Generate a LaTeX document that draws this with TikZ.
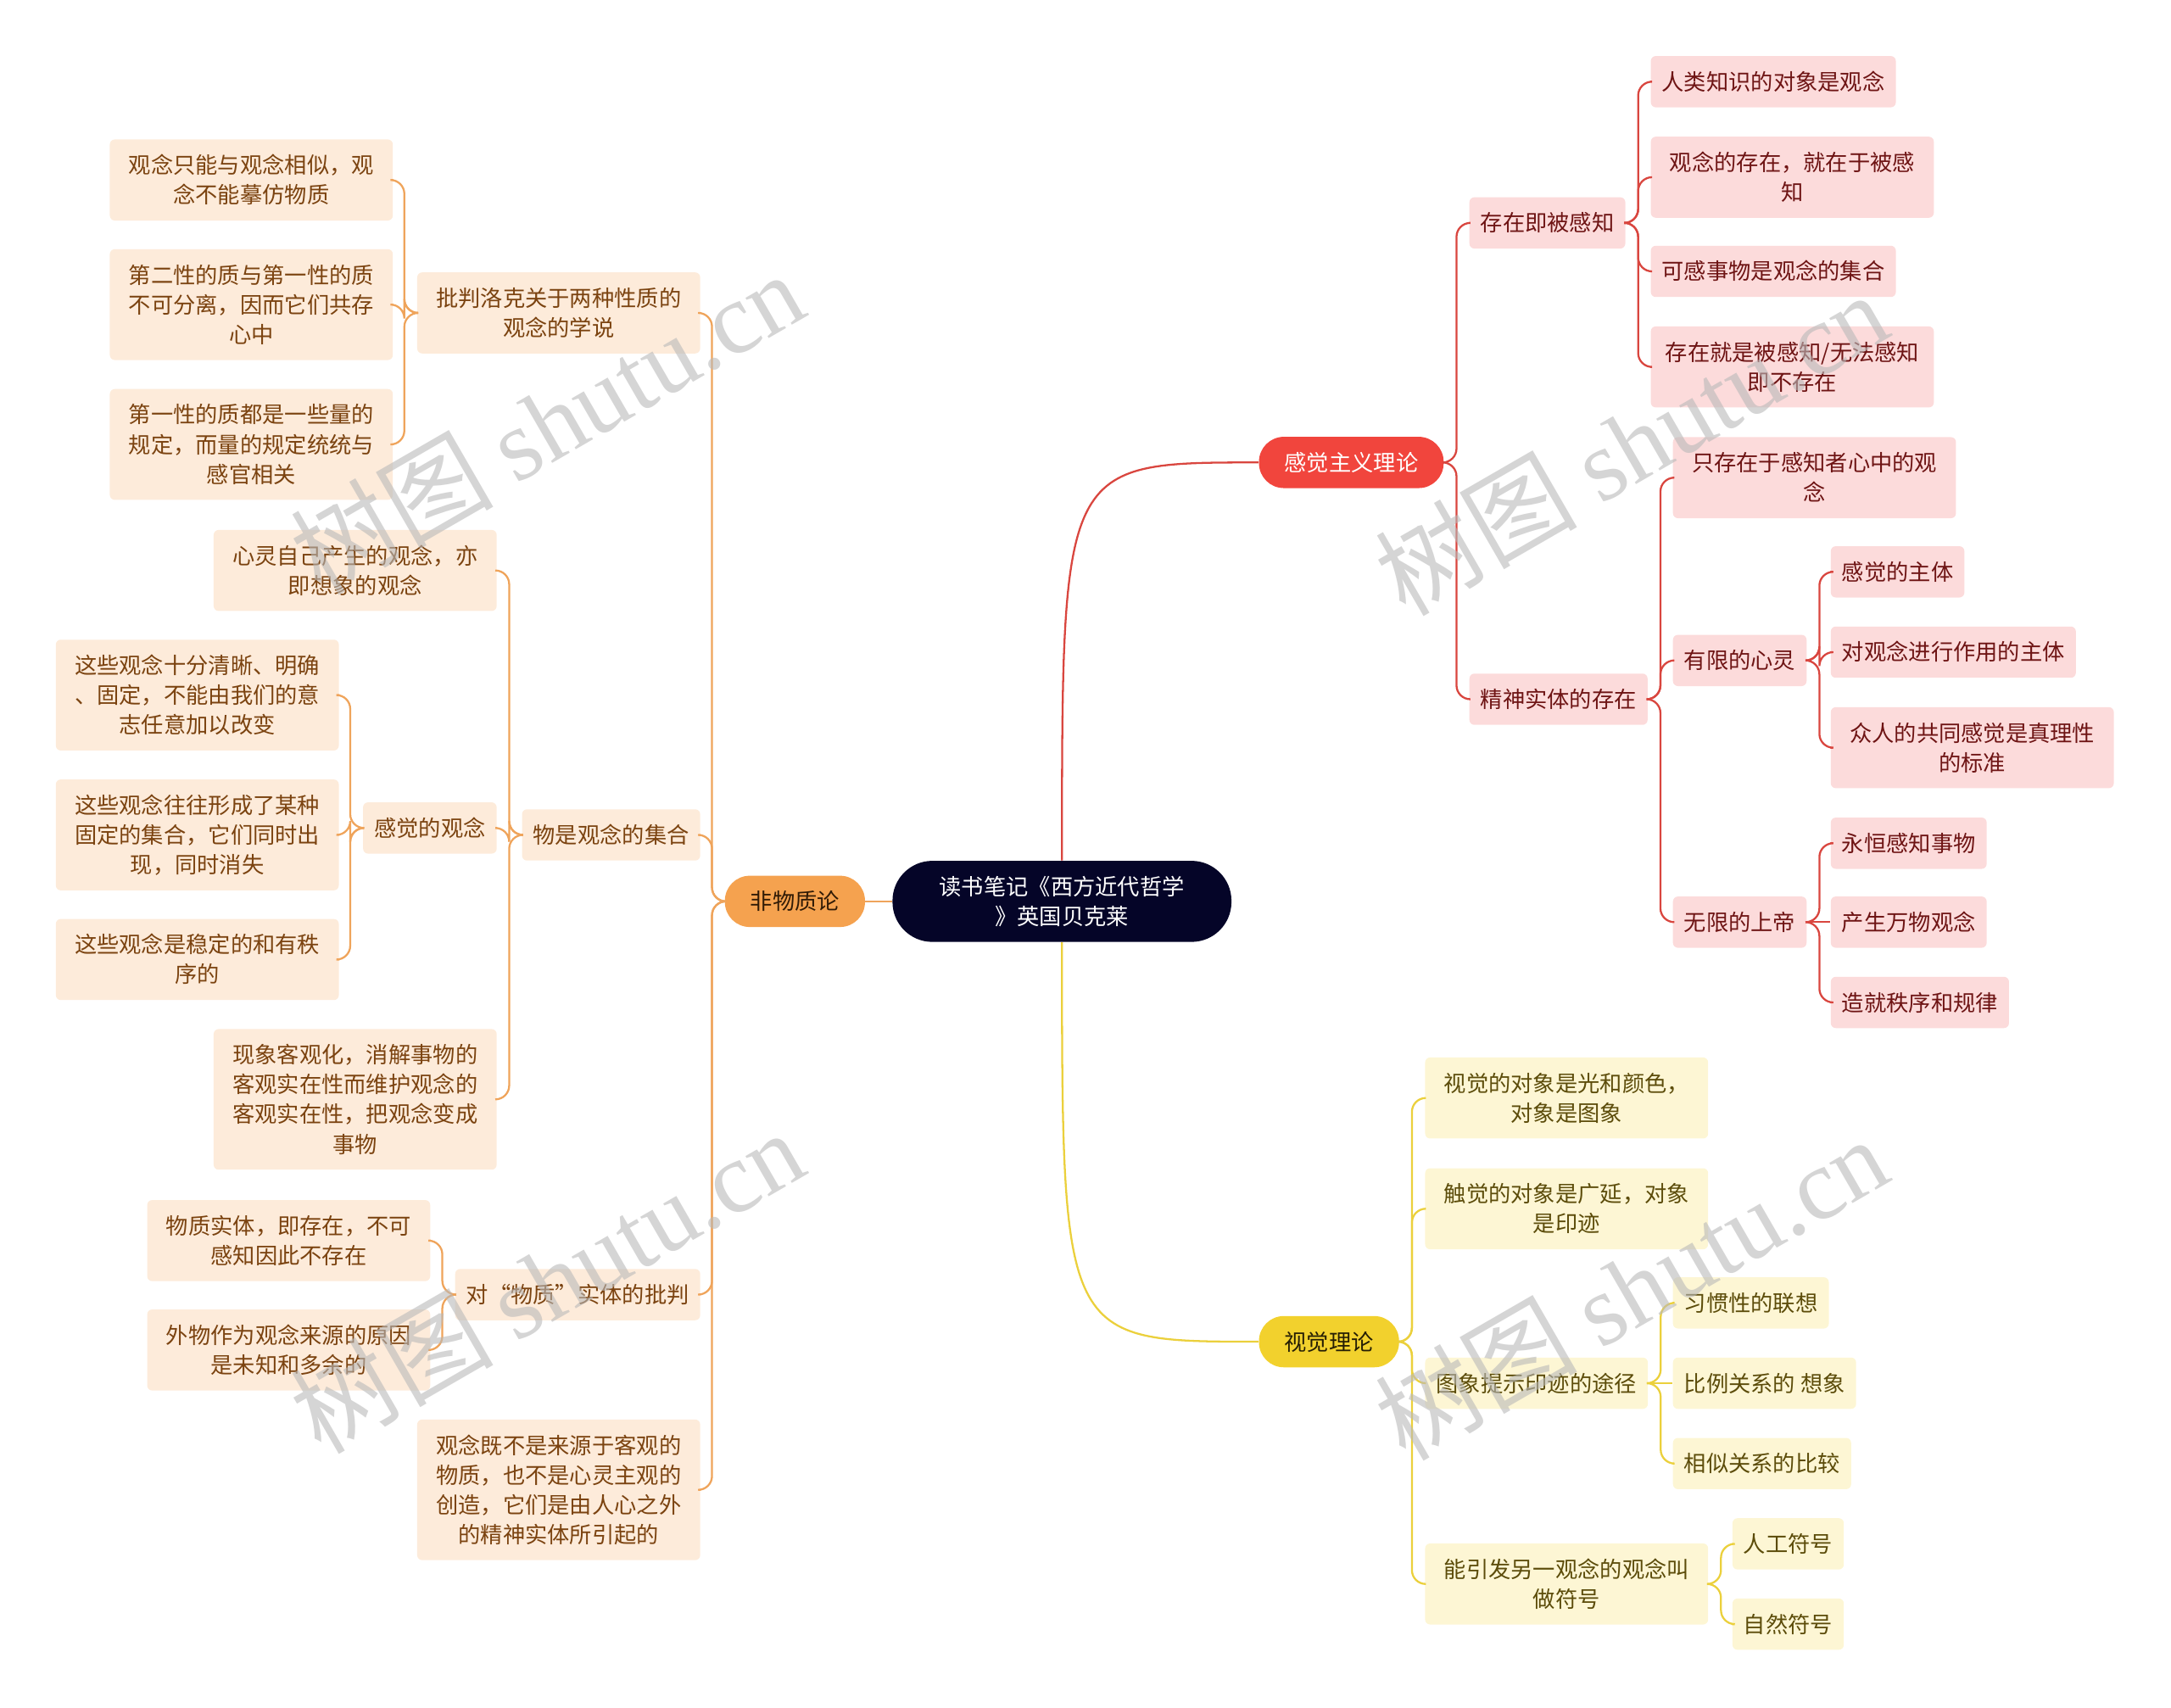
\documentclass[tikz,border=0pt]{standalone}
\usepackage{fontspec}
\setmainfont{Noto Sans CJK SC}
\newfontfamily\wmfont{Liberation Serif}

\definecolor{rootbg}{HTML}{050528}
\definecolor{redmain}{HTML}{F1453D}
\definecolor{redln}{HTML}{D9463F}
\definecolor{redbg}{HTML}{FCDBDB}
\definecolor{redtx}{HTML}{6E1414}
\definecolor{orgmain}{HTML}{F5A24F}
\definecolor{orgln}{HTML}{EFA45B}
\definecolor{orgbg}{HTML}{FDEBDA}
\definecolor{orgtx}{HTML}{7B4310}
\definecolor{yelmain}{HTML}{F2D12D}
\definecolor{yelln}{HTML}{EBD03C}
\definecolor{yelbg}{HTML}{FDF6D4}
\definecolor{yeltx}{HTML}{5C4C0A}

\newcommand\nstrut{\rule[-3.3pt]{0pt}{15.3pt}}

\tikzset{
  box/.style={rectangle, rounded corners=0.9mm, inner xsep=2mm, inner ysep=1.94mm, align=center,
    font=\fontsize{11.45}{15.3}\selectfont, execute at begin node=\nstrut, execute at end node=\nstrut},
  wrap/.style={text width=48.5mm, inner xsep=1.3mm},
  redleaf/.style={box, fill=redbg, text=redtx},
  orgleaf/.style={box, fill=orgbg, text=orgtx},
  yelleaf/.style={box, fill=yelbg, text=yeltx},
  mainbox/.style={box, inner xsep=4.6mm, rounded corners=4.5mm},
  rootbox/.style={box, fill=rootbg, text=white, text width=46mm, inner xsep=7.6mm, rounded corners=7.2mm},
  rline/.style={draw=redln, line width=0.35mm, rounded corners=2.5mm},
  oline/.style={draw=orgln, line width=0.35mm, rounded corners=2.5mm},
  yline/.style={draw=yelln, line width=0.35mm, rounded corners=2.5mm},
  wmark/.style={text=gray!55, opacity=0.6, font=\fontsize{52}{52}\selectfont, rotate=30, inner sep=0pt}
}

\begin{document}
\begin{tikzpicture}[x=0.25mm, y=0.25mm]
    \useasboundingbox (0,0) rectangle (1568,-1233);

    % Root and the three main branches
    \node[rootbox] (root) at (767,-651) {读书笔记《西方近代哲学\\》英国贝克莱};
    \node[mainbox, fill=redmain, text=white, anchor=west] (sens) at (909,-334) {感觉主义理论};
    \node[mainbox, fill=orgmain, text=orgtx!40!black, anchor=east] (immat) at (625,-651) {非物质论};
    \node[mainbox, fill=yelmain, text=yeltx!40!black, anchor=west] (vis) at (909,-969) {视觉理论};

    % Red branch
    \node[redleaf, anchor=west] (exist) at (1061,-161) {存在即被感知};
    \node[redleaf, anchor=west] (spirit) at (1061,-505) {精神实体的存在};

    \node[redleaf, anchor=west] (e1) at (1192,-59) {人类知识的对象是观念};
    \node[redleaf, wrap, anchor=west] (e2) at (1192,-128) {观念的存在，就在于被感\\知};
    \node[redleaf, anchor=west] (e3) at (1192,-196) {可感事物是观念的集合};
    \node[redleaf, wrap, anchor=west] (e4) at (1192,-265) {存在就是被感知/无法感知\\即不存在};

    \node[redleaf, wrap, anchor=west] (s1) at (1208,-345) {只存在于感知者心中的观\\念};
    \node[redleaf, anchor=west] (s2) at (1208,-477) {有限的心灵};
    \node[redleaf, anchor=west] (s3) at (1208,-666) {无限的上帝};

    \node[redleaf, anchor=west] (m1) at (1322,-413) {感觉的主体};
    \node[redleaf, anchor=west] (m2) at (1322,-471) {对观念进行作用的主体};
    \node[redleaf, wrap, anchor=west] (m3) at (1322,-540) {众人的共同感觉是真理性\\的标准};

    \node[redleaf, anchor=west] (g1) at (1322,-609) {永恒感知事物};
    \node[redleaf, anchor=west] (g2) at (1322,-666) {产生万物观念};
    \node[redleaf, anchor=west] (g3) at (1322,-724) {造就秩序和规律};

    % Yellow branch
    \node[yelleaf, wrap, anchor=west] (v1) at (1029,-793) {视觉的对象是光和颜色，\\对象是图象};
    \node[yelleaf, wrap, anchor=west] (v2) at (1029,-873) {触觉的对象是广延，对象\\是印迹};
    \node[yelleaf, anchor=west] (v3) at (1029,-999) {图象提示印迹的途径};
    \node[yelleaf, wrap, anchor=west] (v4) at (1029,-1144) {能引发另一观念的观念叫\\做符号};

    \node[yelleaf, anchor=west] (p1) at (1208,-941) {习惯性的联想};
    \node[yelleaf, anchor=west] (p2) at (1208,-999) {比例关系的 想象};
    \node[yelleaf, anchor=west] (p3) at (1208,-1057) {相似关系的比较};

    \node[yelleaf, anchor=west] (n1) at (1251,-1115) {人工符号};
    \node[yelleaf, anchor=west] (n2) at (1251,-1173) {自然符号};

    % Orange branch
    \node[orgleaf, wrap, anchor=east] (o1) at (506,-226) {批判洛克关于两种性质的\\观念的学说};
    \node[orgleaf, anchor=east] (o2) at (506,-603) {物是观念的集合};
    \node[orgleaf, anchor=east] (o3) at (506,-935) {对“物质”实体的批判};
    \node[orgleaf, wrap, anchor=east] (o4) at (506,-1076) {观念既不是来源于客观的\\物质，也不是心灵主观的\\创造，它们是由人心之外\\的精神实体所引起的};

    \node[orgleaf, wrap, anchor=east] (l1) at (284,-130) {观念只能与观念相似，观\\念不能摹仿物质};
    \node[orgleaf, wrap, anchor=east] (l2) at (284,-220) {第二性的质与第一性的质\\不可分离，因而它们共存\\心中};
    \node[orgleaf, wrap, anchor=east] (l3) at (284,-321) {第一性的质都是一些量的\\规定，而量的规定统统与\\感官相关};

    \node[orgleaf, wrap, anchor=east] (c1) at (359,-412) {心灵自己产生的观念，亦\\即想象的观念};
    \node[orgleaf, anchor=east] (c2) at (359,-598) {感觉的观念};
    \node[orgleaf, wrap, anchor=east] (c3) at (359,-794) {现象客观化，消解事物的\\客观实在性而维护观念的\\客观实在性，把观念变成\\事物};

    \node[orgleaf, wrap, anchor=east] (f1) at (245,-502) {这些观念十分清晰、明确\\、固定，不能由我们的意\\志任意加以改变};
    \node[orgleaf, wrap, anchor=east] (f2) at (245,-603) {这些观念往往形成了某种\\固定的集合，它们同时出\\现，同时消失};
    \node[orgleaf, wrap, anchor=east] (f3) at (245,-693) {这些观念是稳定的和有秩\\序的};

    \node[orgleaf, wrap, anchor=east] (q1) at (311,-896) {物质实体，即存在，不可\\感知因此不存在};
    \node[orgleaf, wrap, anchor=east] (q2) at (311,-975) {外物作为观念来源的原因\\是未知和多余的};

    % Connectors from the root
    \draw[rline] (root.north) .. controls (root.north |- sens.west) .. (sens.west);
    \draw[yline] (root.south) .. controls (root.south |- vis.west) .. (vis.west);
    \draw[oline] (root.west) -- (immat.east);

    % Red connectors
    \draw[rline] (sens.east) -- ++(9,0) |- (exist.west);
    \draw[rline] (sens.east) -- ++(9,0) |- (spirit.west);
    \draw[rline] (exist.east) -- ++(9,0) |- (e1.west);
    \draw[rline] (exist.east) -- ++(9,0) |- (e2.west);
    \draw[rline] (exist.east) -- ++(9,0) |- (e3.west);
    \draw[rline] (exist.east) -- ++(9,0) |- (e4.west);
    \draw[rline] (spirit.east) -- ++(9,0) |- (s1.west);
    \draw[rline] (spirit.east) -- ++(9,0) |- (s2.west);
    \draw[rline] (spirit.east) -- ++(9,0) |- (s3.west);
    \draw[rline] (s2.east) -- ++(9,0) |- (m1.west);
    \draw[rline] (s2.east) -- ++(9,0) |- (m2.west);
    \draw[rline] (s2.east) -- ++(9,0) |- (m3.west);
    \draw[rline] (s3.east) -- ++(9,0) |- (g1.west);
    \draw[rline] (s3.east) -- (g2.west);
    \draw[rline] (s3.east) -- ++(9,0) |- (g3.west);

    % Yellow connectors
    \draw[yline] (vis.east) -- ++(9,0) |- (v1.west);
    \draw[yline] (vis.east) -- ++(9,0) |- (v2.west);
    \draw[yline] (vis.east) -- ++(9,0) |- (v3.west);
    \draw[yline] (vis.east) -- ++(9,0) |- (v4.west);
    \draw[yline] (v3.east) -- ++(9,0) |- (p1.west);
    \draw[yline] (v3.east) -- (p2.west);
    \draw[yline] (v3.east) -- ++(9,0) |- (p3.west);
    \draw[yline] (v4.east) -- ++(9,0) |- (n1.west);
    \draw[yline] (v4.east) -- ++(9,0) |- (n2.west);

    % Orange connectors
    \draw[oline] (immat.west) -- ++(-9,0) |- (o1.east);
    \draw[oline] (immat.west) -- ++(-9,0) |- (o2.east);
    \draw[oline] (immat.west) -- ++(-9,0) |- (o3.east);
    \draw[oline] (immat.west) -- ++(-9,0) |- (o4.east);
    \draw[oline] (o1.west) -- ++(-9,0) |- (l1.east);
    \draw[oline] (o1.west) -- ++(-9,0) |- (l2.east);
    \draw[oline] (o1.west) -- ++(-9,0) |- (l3.east);
    \draw[oline] (o2.west) -- ++(-9,0) |- (c1.east);
    \draw[oline] (o2.west) -- ++(-9,0) |- (c2.east);
    \draw[oline] (o2.west) -- ++(-9,0) |- (c3.east);
    \draw[oline] (c2.west) -- ++(-9,0) |- (f1.east);
    \draw[oline] (c2.west) -- ++(-9,0) |- (f2.east);
    \draw[oline] (c2.west) -- ++(-9,0) |- (f3.east);
    \draw[oline] (o3.west) -- ++(-9,0) |- (q1.east);
    \draw[oline] (o3.west) -- ++(-9,0) |- (q2.east);

    % Watermarks
    \node[wmark] (wm1) at (395,-305) {树图 {\wmfont shutu.cn}};
    \node[wmark] (wm2) at (395,-925) {树图 {\wmfont shutu.cn}};
    \node[wmark] (wm3) at (1178,-320) {树图 {\wmfont shutu.cn}};
    \node[wmark] (wm4) at (1178,-930) {树图 {\wmfont shutu.cn}};
\end{tikzpicture}
\end{document}
